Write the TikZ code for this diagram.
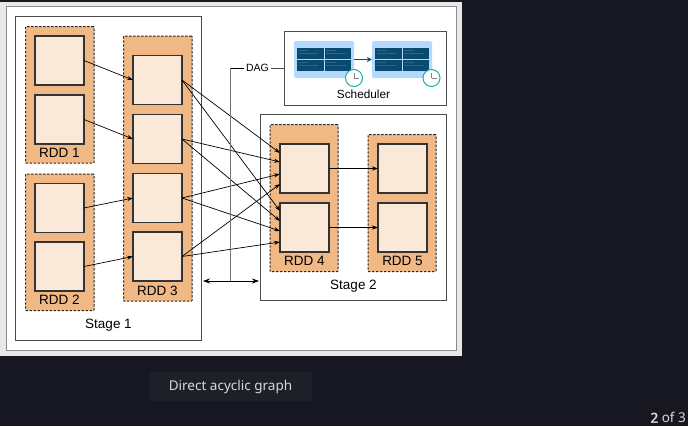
\documentclass[tikz,border=0pt]{standalone}
\usepackage{fontspec}
\setmainfont{Liberation Sans}
\newfontfamily\capfont{Noto Sans}
\newfontfamily\capbold[FakeBold=2.5]{Noto Sans}
\usetikzlibrary{arrows.meta,calc}
\definecolor{pagebg}{HTML}{161720}
\definecolor{chipbg}{HTML}{1E2029}
\definecolor{frameg}{HTML}{E8E8E8}
\definecolor{panelc}{HTML}{EFB885}
\definecolor{cellc}{HTML}{FAE8D9}
\definecolor{bluep}{HTML}{B3D9FF}
\definecolor{blued}{HTML}{0B4A6F}
\definecolor{clockc}{HTML}{1FAFA8}
\tikzset{
  stagebox/.style={draw=black!70,line width=0.9pt,fill=white,inner sep=0pt,outer sep=0pt,anchor=north west},
  panel/.style={draw=black!85,line width=1pt,dash pattern=on 2.4pt off 1.6pt,fill=panelc,rounded corners=0.5pt,inner sep=0pt,outer sep=0pt,anchor=north west},
  cellbox/.style={draw=black!80,line width=1.3pt,fill=cellc,minimum width=49pt,minimum height=49pt,inner sep=0pt,outer sep=0pt},
  lbl/.style={font=\fontsize{13.5}{15}\selectfont,text=black,inner sep=0pt},
  link/.style={draw=black,line width=0.7pt,-{Stealth[length=6pt,width=4pt]}},
  bluepanel/.style={fill=bluep,rounded corners=2pt,minimum width=60pt,minimum height=37pt,inner sep=0pt},
  taskcell/.style={fill=blued,minimum width=26.5pt,minimum height=10.5pt,inner sep=0pt},
  clockface/.style={circle,draw=clockc,line width=1pt,fill=white,minimum size=17pt,inner sep=0pt},
}
\newcommand{\taskgrid}[3]{%
  \node[taskcell] at (#1+13.5,#2+5.5) {};
  \node[taskcell] at (#1+41,#2+5.5) {};
  \node[taskcell] at (#1+13.5,#2+17.5) {};
  \node[taskcell] at (#1+41,#2+17.5) {};
  \foreach \cx in {1,28.5}\foreach \cy in {2,14}{
    \draw[blued!85!white,line width=0.3pt] (#1+\cx+0.5,#2+\cy) -- (#1+\cx+10,#2+\cy);
    \draw[blued!85!white,line width=0.3pt] (#1+\cx+0.5,#2+\cy+3) -- (#1+\cx+20,#2+\cy+3);
  }
}
\newcommand{\clockat}[3]{%
  \node[clockface] (#3) at (#1,#2) {};
  \draw[gray,line width=0.5pt] (#3.center) -- ++(0,-5) (#3.center) -- ++(5,0);
}
\begin{document}
\begin{tikzpicture}[x=1pt,y=-1pt]
\useasboundingbox (0,0) rectangle (688,426);
\fill[pagebg] (0,0) rectangle (688,426);
\fill[frameg] (0,2) rectangle (462,356);
\draw[black!45,line width=0.8pt,fill=white] (6.5,6.5) rectangle (456.5,350);

% stages
\node[stagebox,minimum width=186pt,minimum height=323.5pt] (stageA) at (15.5,16.5) {};
\node[stagebox,minimum width=185.5pt,minimum height=186pt] (stageB) at (260.5,114.5) {};
\node[stagebox,minimum width=162pt,minimum height=73.5pt] (sched) at (284.5,31.5) {};

% panels
\node[panel,minimum width=68.5pt,minimum height=136.5pt] (p1) at (25.5,26.5) {};
\node[panel,minimum width=68.5pt,minimum height=136.5pt] (p2) at (25.5,174) {};
\node[panel,minimum width=68.5pt,minimum height=265pt] (p3) at (123.5,36) {};
\node[panel,minimum width=68pt,minimum height=147pt] (p4) at (270,124.5) {};
\node[panel,minimum width=68pt,minimum height=137pt] (p5) at (368,134.5) {};

% cells
\node[cellbox] (a1) at (59.5,60.5) {};
\node[cellbox] (a2) at (59.5,119.5) {};
\node[cellbox] (b1) at (59.5,208) {};
\node[cellbox] (b2) at (59.5,266.5) {};
\node[cellbox] (c1) at (157.5,80) {};
\node[cellbox] (c2) at (157.5,139) {};
\node[cellbox] (c3) at (157.5,198) {};
\node[cellbox] (c4) at (157.5,256.5) {};
\node[cellbox] (d1) at (304.5,168.5) {};
\node[cellbox] (d2) at (304.5,227.5) {};
\node[cellbox] (e1) at (402.5,168.5) {};
\node[cellbox] (e2) at (402.5,227.5) {};

% labels
\node[lbl] (l1) at (59.5,153) {RDD 1};
\node[lbl] (l2) at (59.5,300) {RDD 2};
\node[lbl] (l3) at (157.5,291) {RDD 3};
\node[lbl] (l4) at (304.5,261) {RDD 4};
\node[lbl] (l5) at (402.5,261) {RDD 5};
\node[lbl] (s1) at (108.5,325.5) {Stage 1};
\node[lbl] (s2) at (353.5,286.5) {Stage 2};

% links
\draw[link] (a1.east) -- (c1.west);
\draw[link] (a2.east) -- (c2.west);
\draw[link] (b1.east) -- (c3.west);
\draw[link] (b2.east) -- (c4.west);
\draw[link] (c1.east) -- ([yshift=15.5pt]d1.west);
\draw[link] (c1.east) -- ([yshift=16.5pt]d2.west);
\draw[link] (c2.east) -- ([yshift=6.5pt]d1.west);
\draw[link] (c2.east) -- ([yshift=6.5pt]d2.west);
\draw[link] (c3.east) -- ([yshift=-5.5pt]d1.west);
\draw[link] (c3.east) -- ([yshift=-3.5pt]d2.west);
\draw[link] (c4.east) -- ([yshift=-15.5pt]d1.west);
\draw[link] (c4.east) -- ([yshift=-14.5pt]d2.west);
\draw[link] (d1.east) -- (e1.west);
\draw[link] (d2.east) -- (e2.west);

% DAG
\coordinate (dagfoot) at (230.5,281);
\coordinate (stageAedge) at (203,281);
\coordinate (stageBedge) at (259,281);
\node[font=\fontsize{10.5}{12}\selectfont,inner sep=0pt] (dag) at (257.5,68) {DAG};
\draw[black!55,line width=1pt] (dagfoot) -- (dagfoot |- dag.west);
\draw[black,line width=0.7pt] (dag.west) ++(-2,0) -- (dagfoot |- dag.west);
\draw[black!70,line width=0.8pt] (dag.east) ++(2,0) -- (sched.west |- dag.east);
\draw[black,line width=0.8pt,{Stealth[length=7pt,width=5pt]}-{Stealth[length=7pt,width=5pt]}] (stageAedge) -- (stageBedge);

% scheduler
\node[bluepanel] (q1) at (324,59.5) {};
\node[bluepanel] (q2) at (402,59.5) {};
\taskgrid{297}{48}{}
\taskgrid{375}{48}{}
\draw[blued,line width=1.2pt,-{Stealth[length=5pt,width=5pt]}] (q1.east) -- (q2.west);
\clockat{354}{78}{ck1}
\clockat{431.5}{78}{ck2}
\node[font=\fontsize{11.8}{13}\selectfont,inner sep=0pt] (schedl) at (363.5,94.5) {Scheduler};

% caption
\node[fill=chipbg,rounded corners=2pt,minimum width=163pt,minimum height=29pt,inner sep=0pt,text=black!15,font=\capfont\fontsize{13.5}{15}\selectfont] (chip) at (230.5,386.5) {Direct acyclic graph};
\node[anchor=east,inner sep=0pt,text=black!15,font=\capfont\fontsize{13.5}{15}\selectfont] (pager) at (686,417.5) {{\capbold 2} of 3};
\end{tikzpicture}
\end{document}
